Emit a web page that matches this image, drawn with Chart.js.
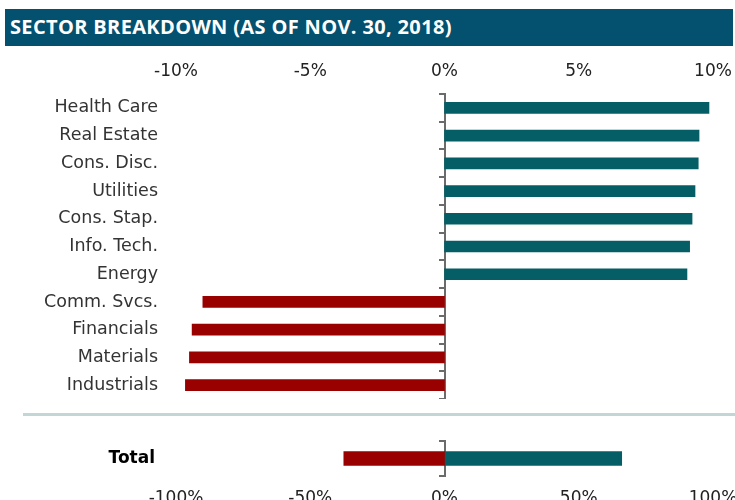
<!DOCTYPE html>
<html>
<head>
<meta charset="utf-8">
<script src="https://cdn.jsdelivr.net/npm/chart.js@4/dist/chart.umd.min.js"></script>
<style>
  html, body { margin: 0; padding: 0; background: #fff; overflow: hidden; width: 735px; height: 500px; }
  #title {
    position: absolute; left: 5px; top: 9px; width: 728px; height: 37px;
    background: #04506f; color: #fff;
    font: bold 20px "Open Sans", sans-serif; line-height: 36px;
    padding-left: 5px; box-sizing: border-box; letter-spacing: 0.35px; white-space: nowrap;
  }
  #sep { position: absolute; left: 23px; top: 413px; width: 712px; height: 3px; background: #c3d6d6; }
  #top { position: absolute; left: 0; top: 50px; }
  #bot { position: absolute; left: 0; top: 421px; }
</style>
</head>
<body>
<div id="title">SECTOR BREAKDOWN (AS OF NOV. 30, 2018)</div>
<canvas id="top" width="735" height="349"></canvas>
<div id="sep"></div>
<canvas id="bot" width="735" height="100"></canvas>
<script>
// sector weights, %
const sectors = ['Health Care', 'Real Estate', 'Cons. Disc.', 'Utilities', 'Cons. Stap.', 'Info. Tech.',
  'Energy', 'Comm. Svcs.', 'Financials', 'Materials', 'Industrials'];
const weights = [9.85, 9.48, 9.45, 9.33, 9.22, 9.13, 9.03, -9.0, -9.4, -9.5, -9.65];
const topTicks = [-10, -5, 0, 5, 10];

const totalLabel = ['Total'];
const totalNeg = [-37.5];
const totalPos = [66];
const bottomTicks = [-100, -50, 0, 50, 100];

const TEAL = '#055e66';
const RED = '#990000';
const FONT = '"DejaVu Sans", sans-serif';

Chart.defaults.animation = false;
Chart.defaults.responsive = false;

// axis label padding shouldn't eat into the plot area
const noPad = (s) => { s.paddingLeft = 0; s.paddingRight = 0; s.paddingTop = 0; s.paddingBottom = 0; };

// the little bracket at 0 with ticks between categories
const bracketAxis = {
  type: 'category',
  position: { x: 0 },
  offset: true,
  afterFit: noPad,
  ticks: { display: false },
  grid: { offset: true, drawOnChartArea: false, drawTicks: true, tickLength: 5, color: '#6b6b6b', lineWidth: 2 },
  border: { display: true, color: '#6b6b6b', width: 2 },
};

new Chart(document.getElementById('top'), {
  type: 'bar',
  data: {
    labels: sectors,
    datasets: [{
      data: weights,
      backgroundColor: weights.map((v) => v < 0 ? RED : TEAL),
      borderWidth: 0,
      barThickness: 11,
    }],
  },
  options: {
    indexAxis: 'y',
    layout: { padding: { right: 22, top: 0, bottom: 0 } },
    plugins: { legend: { display: false }, tooltip: { enabled: false } },
    scales: {
      x: {
        position: 'top',
        min: -10,
        max: 10,
        afterBuildTicks: (s) => { s.ticks = topTicks.map((v) => ({ value: v })); },
        afterFit: (s) => { noPad(s); s.height = 44; },
        grid: { display: false, drawTicks: false },
        border: { display: false },
        ticks: { color: '#222', padding: 12, font: { family: FONT, size: 17 }, callback: (v) => v + '%' },
      },
      y: {
        afterFit: (s) => { noPad(s); s.width = 176; },
        grid: { display: false, drawTicks: false },
        border: { display: false },
        ticks: { color: '#333', padding: 18, font: { family: FONT, size: 17.5 } },
      },
      y2: bracketAxis,
    },
  },
});

new Chart(document.getElementById('bot'), {
  type: 'bar',
  data: {
    labels: totalLabel,
    datasets: [
      { data: totalNeg, backgroundColor: RED, borderWidth: 0, barThickness: 14 },
      { data: totalPos, backgroundColor: TEAL, borderWidth: 0, barThickness: 14 },
    ],
  },
  options: {
    indexAxis: 'y',
    layout: { padding: { right: 22, top: 20, bottom: 0 } },
    plugins: { legend: { display: false }, tooltip: { enabled: false } },
    scales: {
      x: {
        stacked: true,
        position: 'bottom',
        min: -100,
        max: 100,
        afterBuildTicks: (s) => { s.ticks = bottomTicks.map((v) => ({ value: v })); },
        afterFit: (s) => { noPad(s); s.height = 45; },
        grid: { display: false, drawTicks: false },
        border: { display: false },
        ticks: { color: '#222', padding: 12, font: { family: FONT, size: 17 }, callback: (v) => v + '%' },
      },
      y: {
        stacked: true,
        afterFit: (s) => { noPad(s); s.width = 176; },
        grid: { display: false, drawTicks: false },
        border: { display: false },
        ticks: { color: '#000', padding: 21, font: { family: FONT, size: 17, weight: 'bold' } },
      },
      y2: bracketAxis,
    },
  },
});
</script>
</body>
</html>
